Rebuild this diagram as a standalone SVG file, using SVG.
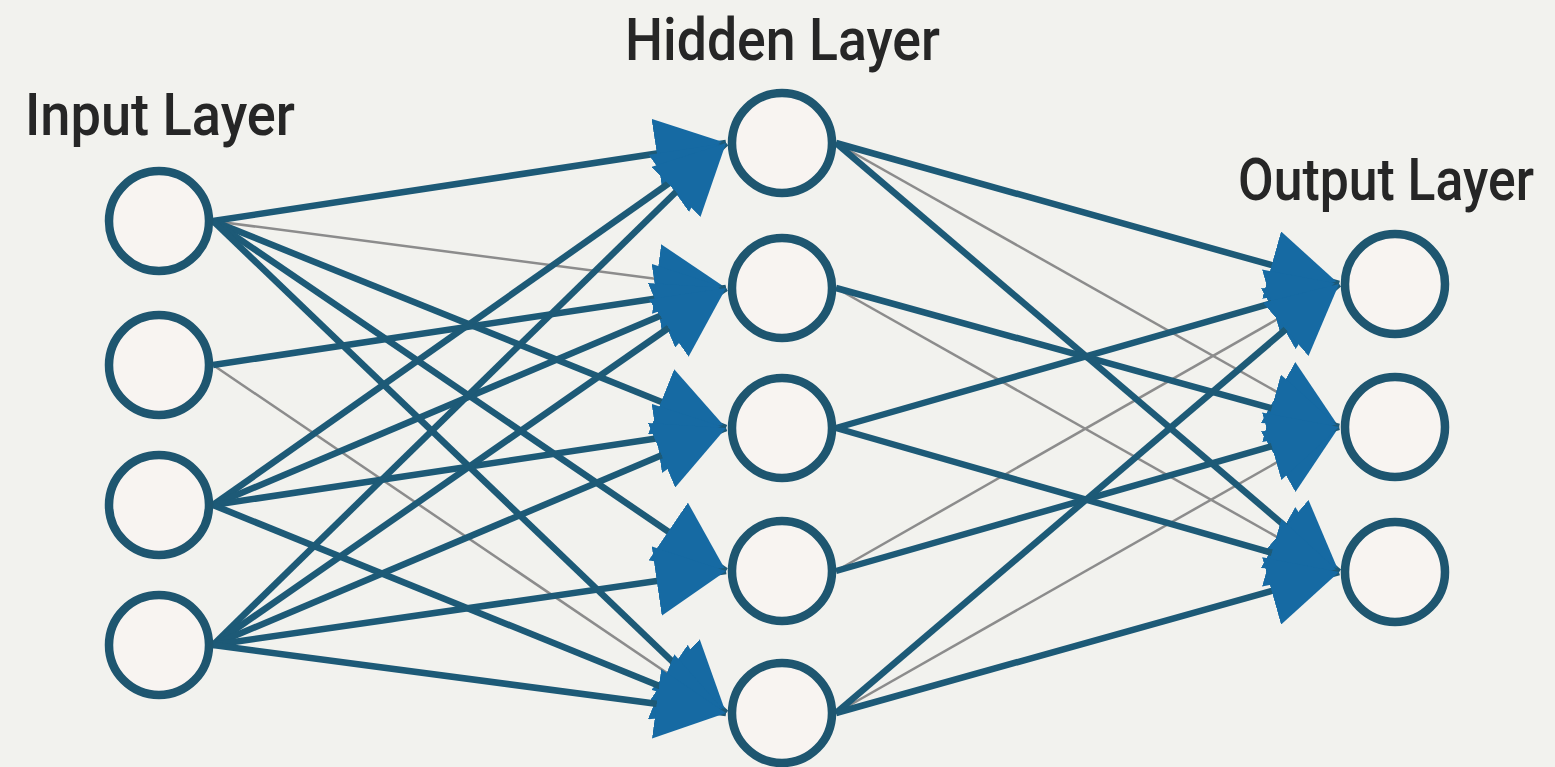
<svg xmlns="http://www.w3.org/2000/svg" width="1555" height="767" viewBox="0 0 1555 767">
<style>
.bg{fill:#f2f2ee}
.node{fill:#f8f4f1;stroke:#1e5670;stroke-width:8.5}
.thick{stroke:#1d5a77;stroke-width:6.5;fill:none;marker-end:url(#ah)}
.thin{stroke:#8c8c8c;stroke-width:2.5;fill:none;marker-end:url(#ah)}
.lbl{font-family:Roboto,"Liberation Sans",sans-serif;font-size:50px;font-weight:500;fill:#262626}
</style>
<defs>
<marker id="ah" viewBox="0 0 70 70" refX="70" refY="35" markerWidth="70" markerHeight="70" markerUnits="userSpaceOnUse" orient="auto">
<path d="M0,0 L70,35 L0,70 z" fill="#166aa3"/>
</marker>
</defs>
<rect class="bg" x="0" y="0" width="1555" height="767"/>
<g id="labels">
<text class="lbl" transform="translate(25,135) scale(1,1.2)" x="0" y="0" textLength="270" lengthAdjust="spacingAndGlyphs">Input Layer</text>
<text class="lbl" transform="translate(625,60) scale(1,1.2)" x="0" y="0" textLength="315" lengthAdjust="spacingAndGlyphs">Hidden Layer</text>
<text class="lbl" transform="translate(1238,200) scale(1,1.2)" x="0" y="0" textLength="296" lengthAdjust="spacingAndGlyphs">Output Layer</text>
</g>
<g id="connectors">
<line class="thin" x1="213" y1="221" x2="726" y2="288"/>
<line class="thin" x1="213" y1="365" x2="726" y2="713"/>
<line class="thin" x1="836" y1="143" x2="1339" y2="427"/>
<line class="thin" x1="836" y1="288" x2="1339" y2="572"/>
<line class="thin" x1="836" y1="571" x2="1339" y2="284"/>
<line class="thin" x1="836" y1="713" x2="1339" y2="427"/>
<line class="thick" x1="213" y1="221" x2="726" y2="143"/>
<line class="thick" x1="213" y1="221" x2="726" y2="428"/>
<line class="thick" x1="213" y1="221" x2="726" y2="571"/>
<line class="thick" x1="213" y1="221" x2="726" y2="713"/>
<line class="thick" x1="213" y1="365" x2="726" y2="288"/>
<line class="thick" x1="213" y1="505" x2="726" y2="143"/>
<line class="thick" x1="213" y1="505" x2="726" y2="288"/>
<line class="thick" x1="213" y1="505" x2="726" y2="428"/>
<line class="thick" x1="213" y1="505" x2="726" y2="713"/>
<line class="thick" x1="213" y1="645" x2="726" y2="143"/>
<line class="thick" x1="213" y1="645" x2="726" y2="288"/>
<line class="thick" x1="213" y1="645" x2="726" y2="428"/>
<line class="thick" x1="213" y1="645" x2="726" y2="571"/>
<line class="thick" x1="213" y1="645" x2="726" y2="713"/>
<line class="thick" x1="836" y1="143" x2="1339" y2="284"/>
<line class="thick" x1="836" y1="143" x2="1339" y2="572"/>
<line class="thick" x1="836" y1="288" x2="1339" y2="427"/>
<line class="thick" x1="836" y1="428" x2="1339" y2="284"/>
<line class="thick" x1="836" y1="428" x2="1339" y2="572"/>
<line class="thick" x1="836" y1="571" x2="1339" y2="427"/>
<line class="thick" x1="836" y1="713" x2="1339" y2="284"/>
<line class="thick" x1="836" y1="713" x2="1339" y2="572"/>
</g>
<g id="input-1"><circle class="node" cx="159" cy="221" r="50"/></g>
<g id="input-2"><circle class="node" cx="159" cy="365" r="50"/></g>
<g id="input-3"><circle class="node" cx="159" cy="505" r="50"/></g>
<g id="input-4"><circle class="node" cx="159" cy="645" r="50"/></g>
<g id="hidden-1"><circle class="node" cx="782" cy="143" r="50"/></g>
<g id="hidden-2"><circle class="node" cx="782" cy="288" r="50"/></g>
<g id="hidden-3"><circle class="node" cx="782" cy="428" r="50"/></g>
<g id="hidden-4"><circle class="node" cx="782" cy="571" r="50"/></g>
<g id="hidden-5"><circle class="node" cx="782" cy="713" r="50"/></g>
<g id="output-1"><circle class="node" cx="1395" cy="284" r="50"/></g>
<g id="output-2"><circle class="node" cx="1395" cy="427" r="50"/></g>
<g id="output-3"><circle class="node" cx="1395" cy="572" r="50"/></g>
</svg>
